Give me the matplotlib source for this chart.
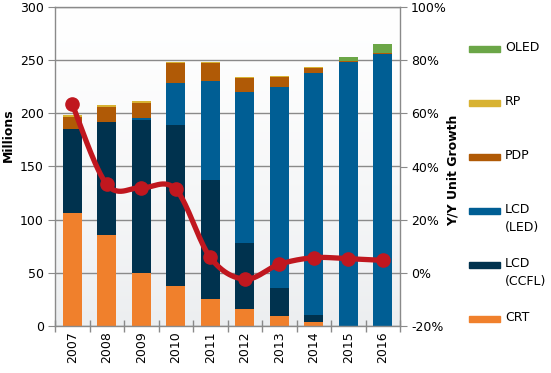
import numpy as np
import matplotlib
matplotlib.use("Agg")
import matplotlib.pyplot as plt
from matplotlib.patches import Rectangle

years = ["2007", "2008", "2009", "2010", "2011", "2012", "2013", "2014", "2015", "2016"]
crt = [106.5, 85.6, 49.8, 37.6, 25.7, 16.0, 9.7, 3.8, 0.0, 0.0]
lcd_ccfl = [78.8, 106.3, 143.9, 151.4, 111.6, 62.4, 26.3, 6.5, 0.0, 0.0]
lcd_led = [0.0, 0.0, 1.9, 39.5, 93.1, 141.6, 188.8, 227.7, 248.3, 256.0]
pdp = [11.3, 14.4, 14.1, 18.8, 17.2, 13.2, 9.4, 4.6, 0.9, 0.7]
rp = [1.8, 1.2, 1.9, 1.3, 1.0, 1.0, 0.6, 1.0, 0.3, 0.3]
oled = [0.0, 0.0, 0.0, 0.0, 0.0, 0.0, 0.0, 0.0, 3.5, 8.2]
growth = [63.4, 33.3, 32.0, 31.4, 5.8, -2.4, 3.2, 5.7, 5.3, 4.7]

series_names = ["CRT", "LCD\n(CCFL)", "LCD\n(LED)", "PDP", "RP", "OLED"]
series_vals = [crt, lcd_ccfl, lcd_led, pdp, rp, oled]
series_colors = ["#F0802C", "#00324E", "#005E94", "#B05A06", "#D8B232", "#6BA647"]
line_color = "#C0171F"

W, H = 551, 373
fig = plt.figure(figsize=(W / 100, H / 100), dpi=100)
plt.rcParams['font.family'] = ['DejaVu Sans']
fs = 9

ax = fig.add_axes([55 / W, (H - 326) / H, 345 / W, 319 / H])
x = np.arange(len(years))

# background gradient: white at top, light grey at bottom
grad = np.linspace(0, 1, 256).reshape(-1, 1)
top = np.array([1.0, 1.0, 1.0])
bot = np.array([0xEC, 0xEE, 0xF0]) / 255
img = top + (bot - top) * grad[:, :, None] ** 1.3
ax.imshow(img, aspect='auto', extent=(-0.5, 9.5, 0, 300), origin='upper', zorder=-2)

bottom = np.zeros(len(years))
for name, vals, col in zip(series_names, series_vals, series_colors):
    v = np.array(vals)
    ax.bar(x, v, width=0.56, bottom=bottom, color=col, zorder=2, linewidth=0)
    bottom += v

ax.set_xlim(-0.5, 9.5)
ax.set_ylim(0, 300)
ax.set_yticks([0, 50, 100, 150, 200, 250, 300])
ax.grid(axis='y', color='#8a8a8a', linewidth=1, zorder=0.5)
ax.set_axisbelow(True)
ax.set_xticks(x)
ax.set_xticklabels(years, rotation=90, fontsize=fs)
ax.tick_params(axis='x', which='major', length=0, pad=4)
ax.set_xticks(np.arange(-0.5, 10, 1), minor=True)
ax.tick_params(axis='x', which='minor', length=8, direction='inout', color='#8a8a8a', width=1)
ax.tick_params(axis='y', length=5, color='#8a8a8a', labelsize=fs, pad=3)
for s in ['left', 'right', 'bottom', 'top']:
    ax.spines[s].set_color('#8a8a8a')
    ax.spines[s].set_linewidth(1)

ax2 = ax.twinx()
ax2.set_ylim(-20, 100)
ax2.set_yticks([-20, 0, 20, 40, 60, 80, 100])
ax2.set_yticklabels([f"{t}%" for t in [-20, 0, 20, 40, 60, 80, 100]])
ax2.tick_params(axis='y', length=5, color='#8a8a8a', labelsize=fs, pad=3)
for s in ['left', 'right', 'bottom', 'top']:
    ax2.spines[s].set_visible(False)

# smooth curve (Catmull-Rom Bezier through data points)
px = x.astype(float)
py = np.array(growth, dtype=float)
n = len(px)
cx, cy = [], []
tt = np.linspace(0, 1, 30)
for i in range(n - 1):
    p0 = np.array([px[max(i - 1, 0)], py[max(i - 1, 0)]])
    p1 = np.array([px[i], py[i]])
    p2 = np.array([px[i + 1], py[i + 1]])
    p3 = np.array([px[min(i + 2, n - 1)], py[min(i + 2, n - 1)]])
    c1 = p1 + (p2 - p0) / 6
    c2 = p2 - (p3 - p1) / 6
    for t in tt:
        b = ((1 - t) ** 3) * p1 + 3 * ((1 - t) ** 2) * t * c1 + 3 * (1 - t) * t ** 2 * c2 + t ** 3 * p2
        cx.append(b[0]); cy.append(b[1])
ax2.plot(cx, cy, color=line_color, linewidth=3.8, solid_capstyle='round', zorder=3)
ax2.plot(px, py, 'o', color=line_color, markersize=9.5, zorder=4)

# axis titles
fig.text(8 / W, 1 - 135 / H, "Millions", rotation=90, ha='center', va='center',
         fontsize=fs, fontweight='bold')
fig.text(453 / W, 1 - 170 / H, "Y/Y Unit Growth", rotation=90, ha='center', va='center',
         fontsize=fs, fontweight='bold')

# legend (top to bottom: OLED ... CRT)
leg_y = [49, 103, 157, 211, 265, 319]
for (name, col), yy in zip(list(zip(series_names, series_colors))[::-1], leg_y):
    fig.patches.append(Rectangle((469 / W, 1 - (yy + 3) / H), 31 / W, 6 / H,
                                 transform=fig.transFigure, color=col, figure=fig))
    fig.text(505 / W, 1 - (yy - 8) / H, name, ha='left', va='top', fontsize=fs,
             linespacing=1.45)

fig.savefig("out.png", dpi=100)
